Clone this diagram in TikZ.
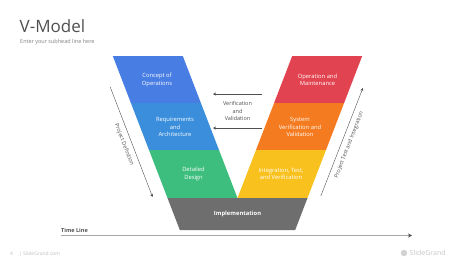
\documentclass[tikz,border=0pt]{standalone}
\usepackage{fontspec}
\setmainfont{Open Sans}
\usepackage{tikz}
\usetikzlibrary{positioning, arrows.meta, calc}
\usepackage{xcolor}

\definecolor{conceptblue}{RGB}{72,125,228}
\definecolor{reqblue}{RGB}{58,142,220}
\definecolor{designgreen}{RGB}{61,190,126}
\definecolor{implgray}{RGB}{110,110,110}
\definecolor{opred}{RGB}{226,67,80}
\definecolor{sysorange}{RGB}{244,123,32}
\definecolor{integyellow}{RGB}{249,193,29}
\definecolor{inkgray}{RGB}{80,80,80}

\begin{document}
\begin{tikzpicture}[>=Stealth, x=1pt, y=-1pt,
  bandtext/.style={font=\fontsize{5.8}{7.2}\selectfont, text=white, align=center},
  sidelabel/.style={font=\fontsize{5.5}{7}\selectfont, text=inkgray, sloped, midway, below=1.5pt},
  guide/.style={draw=inkgray, line width=0.4pt, -{Stealth[length=3pt, width=3pt]}}]
  \useasboundingbox (0,0) rectangle (474,266);

  % Title
  \node[anchor=base west, inner sep=0, font=\fontsize{17}{20}\selectfont, text=inkgray] (title) at (19.5,32) {V-Model};
  \node[anchor=base west, inner sep=0, font=\fontsize{5.5}{7}\selectfont, text=gray] (subhead) at (20,43.5) {Enter your subhead line here};

  % Left arm
  \fill[conceptblue] (112.8,56) -- (182.8,56) -- (200.9,103) -- (130.9,103) -- cycle;
  \fill[reqblue] (130.9,103) -- (200.9,103) -- (219.0,150) -- (149.0,150) -- cycle;
  \fill[designgreen] (149.0,150) -- (219.0,150) -- (237.5,198) -- (167.5,198) -- cycle;

  % Right arm
  \fill[opred] (292.2,56) -- (362.2,56) -- (344.1,103) -- (274.1,103) -- cycle;
  \fill[sysorange] (274.1,103) -- (344.1,103) -- (326.0,150) -- (256.0,150) -- cycle;
  \fill[integyellow] (256.0,150) -- (326.0,150) -- (307.5,198) -- (237.5,198) -- cycle;

  % Bottom
  \fill[implgray] (167.5,198) -- (307.5,198) -- (295.2,230) -- (179.8,230) -- cycle;

  % Phase names
  \node[bandtext] (concept) at (157,80) {Concept of\\Operations};
  \node[bandtext] (reqs) at (175,127) {Requirements\\and\\Architecture};
  \node[bandtext] (design) at (193.5,174) {Detailed\\Design};
  \node[bandtext] (operation) at (317.5,80) {Operation and\\Maintenance};
  \node[bandtext] (sysver) at (300,127) {System\\Verification and\\Validation};
  \node[bandtext] (integ) at (281,174) {Integration, Test,\\and Verification};
  \node[bandtext, font=\fontsize{5.8}{7.2}\selectfont\bfseries] (impl) at (237.5,214) {Implementation};

  % Verification and validation
  \node[font=\fontsize{5.5}{7.5}\selectfont, text=inkgray, align=center] (vandv) at (237.5,111) {Verification\\and\\Validation};
  \coordinate (vtopstart) at (262,94);
  \coordinate (vtopend) at (213,94);
  \coordinate (vbotstart) at (262,128);
  \coordinate (vbotend) at (213,128);
  \draw[guide] (vtopstart) -- (vtopend);
  \draw[guide] (vbotstart) -- (vbotend);

  % Side arrows
  \coordinate (defstart) at (110.2,87);
  \coordinate (defend) at (152.6,197);
  \coordinate (teststart) at (320.8,196);
  \coordinate (testend) at (362.9,88);
  \draw[guide] (defstart) -- (defend) node[sidelabel] (deflabel) {Project Definition};
  \draw[guide] (teststart) -- (testend) node[sidelabel] (testlabel) {Project Test and Integration};

  % Time line
  \node[anchor=base west, inner sep=0, font=\fontsize{5.5}{7}\selectfont\bfseries, text=inkgray] (timelabel) at (61,232) {Time Line};
  \coordinate (timestart) at (61,235.5);
  \coordinate (timeend) at (412,235.5);
  \draw[draw=gray!70, line width=0.8pt, -{Stealth[length=4pt, width=4pt, inkgray]}] (timestart) -- (timeend);

  % Footer
  \node[anchor=base west, inner sep=0, font=\fontsize{5}{6}\selectfont, text=gray!50] (pagenum) at (10,255) {4\hspace{6pt}| SlideGrand.com};
  \fill[gray!35] (404,253) circle (3.2pt);
  \node[anchor=base west, inner sep=0, font=\fontsize{7}{8}\selectfont, text=gray!45] (brand) at (409.5,255.5) {SlideGrand};

\end{tikzpicture}
\end{document}
